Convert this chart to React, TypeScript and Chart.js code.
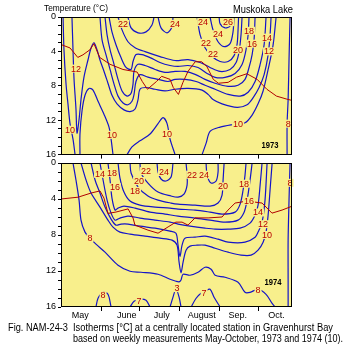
import React, { useEffect, useRef } from 'react';
import { Chart, registerables } from 'chart.js';

Chart.register(...registerables);

type Pt = [number, number]; // [days since 1 May, depth m]
type Lbl = [string, number, number]; // [text, day, depth]

// ---------- axes ----------
const monthNames = ['May', 'June', 'July', 'August', 'Sep.', 'Oct.'];
const monthLabelDays = [15, 51, 78, 109, 137, 167];
const monthStartDays = [31, 61, 92, 123, 153];
const depthTicks = [0, 4, 8, 12, 16];
const seasonDays = 179;
const maxDepth = 16;

// ---------- 1973 isotherms ----------
const t73_10a: Pt[] = [[1.6, 0], [2.3, 3.8], [3.9, 7.8], [5.4, 10.1], [7, 12.4], [9.3, 14.2], [10.9, 16]];
const t73_12: Pt[] = [[8.5, 0], [9.3, 3.8], [10.1, 7.2], [11.6, 10.7], [12.4, 13.5], [14, 11.9], [15.5, 9.6], [17.8, 7], [20.9, 5], [23.3, 3.6], [25.6, 3], [27.9, 3.8], [30.2, 5], [33.3, 6.3], [36.4, 7.7], [39.5, 9.1], [43.4, 10.1], [48.8, 10.8], [53.5, 11], [57.4, 10.7], [59.7, 9.6], [61.2, 8.4], [65.9, 8.2], [72.9, 8.4], [80.6, 8.6], [88.4, 8.4], [98.4, 8.3], [109.3, 8.5], [114, 9], [117.8, 9.6], [124.8, 10.1], [136.4, 10.5], [144.2, 10.2], [148.8, 9.4], [153.5, 8.2], [157.4, 6.7], [160.5, 4.4], [162, 2.1], [162.8, 0]];
const t73_10hump: Pt[] = [[14.7, 16], [14.7, 13.6], [16.3, 10.9], [18.6, 9.1], [21.7, 8.3], [24.8, 8.5], [28.7, 9.8], [33.3, 11.3], [37.2, 12.8], [38.8, 14.2], [40.3, 16]];
const t73_10deep: Pt[] = [[51.2, 16], [55, 15.1], [61.2, 14.4], [69, 13.6], [75.2, 12.4], [79.1, 11.7], [82.2, 12.4], [84.5, 14.2], [88.4, 16]];
const t73_10right: Pt[] = [[109.3, 16], [112.4, 14.7], [115.5, 13.3], [123.3, 12.8], [133.3, 12.5], [142.6, 12.3], [148.1, 11.4], [152.7, 10.1], [156.6, 8.6], [160.5, 6.1], [164.3, 3.3], [166.7, 0]];
const t73_8: Pt[] = [[175.2, 16], [175.2, 12.4], [176, 9.6], [176.7, 4.9], [177.5, 0]];
const t73_14: Pt[] = [[30.2, 0], [31.8, 2.65], [34.9, 4.4], [38, 6.1], [41.1, 7.8], [44.2, 9.2], [48.1, 10], [51.9, 10.2], [55, 9.8], [56.6, 9], [58.1, 7.5], [61.2, 6.7], [67.4, 7], [75.2, 7.25], [82.9, 7.5], [88.4, 7.25], [96.1, 7.25], [104.7, 7.5], [111.6, 7.94], [119.4, 8.4], [129.5, 9], [138.8, 9.2], [145, 8.75], [150.4, 7.5], [154.3, 5.52], [157.4, 3.22], [158.9, 0]];
const t73_16: Pt[] = [[34.1, 0], [35.7, 2.07], [38, 3.8], [41.1, 5.5], [44.2, 7.25], [47.3, 8.6], [51.2, 9.2], [54.3, 8.86], [55.8, 7.8], [56.6, 6.3], [59.7, 5.5], [65.1, 5.64], [72.9, 6.1], [80.6, 6.44], [88.4, 6.33], [96.1, 6.33], [103.9, 6.67], [111.6, 7.25], [119.4, 7.7], [129.5, 8.06], [137.2, 7.94], [142.6, 7.25], [145.7, 5.87], [148.1, 4.37], [149.6, 2.65], [150.4, 0]];
const t73_18: Pt[] = [[37.2, 0], [39.5, 1.73], [42.6, 3.22], [46.5, 4.72], [50.4, 5.87], [54.3, 6.1], [55.8, 5.18], [58.1, 4.37], [62.8, 4.37], [69, 4.72], [76.7, 5.29], [84.5, 5.64], [90.7, 5.75], [98.4, 5.64], [106.2, 5.87], [113.2, 6.56], [119.4, 7.02], [127.1, 7.02], [134.9, 6.56], [140.3, 5.52], [143.4, 3.8], [145, 2.07], [145.7, 0]];
const t73_20: Pt[] = [[44.2, 0], [47.3, 1.5], [51.9, 2.88], [57.4, 3.57], [65.1, 4.03], [76.7, 4.6], [88.4, 5.06], [98.4, 4.95], [107.8, 5.29], [115.5, 5.87], [123.3, 6.33], [131, 6.1], [135.7, 5.29], [138, 4.03], [139.5, 2.07], [140.3, 0]];
const t73_22a: Pt[] = [[105.4, 0], [107.8, 2.07], [111.6, 3.57], [117.1, 4.6], [123.3, 5.18], [129.5, 5.18], [134.1, 4.49], [136.4, 3.22], [137.2, 1.5], [137.6, 0]];
const t73_22b: Pt[] = [[51.9, 0], [54.3, 1.27], [59.7, 1.84], [65.9, 1.73], [70.5, 0.92], [72.1, 0]];
const t73_24a: Pt[] = [[115.5, 0], [117.8, 1.5], [121.7, 2.88], [126.4, 3.45], [131, 3.1], [133.3, 1.73], [134.1, 0]];
const t73_24b: Pt[] = [[75.2, 0], [77.5, 1.27], [82.2, 1.84], [86, 1.15], [86.8, 0]];
const t73_26: Pt[] = [[122.5, 0], [123.3, 0.8], [127.1, 1.27], [131, 1.04], [131.8, 0]];
const t73_red: Pt[] = [[0, 3.2], [7, 3.6], [13, 4.7], [17, 4.4], [22.5, 3.8], [25.5, 3.1], [30, 4.7], [38, 5.5], [48, 6.1], [59, 6.4], [63, 7.5], [67, 8.4], [74, 7.5], [78, 6.9], [84.5, 7.25], [87, 8.2], [91, 9.0], [94.5, 7.6], [98.5, 6.3], [104, 5.2], [109, 5.2], [113, 5.75], [118, 7.25], [122, 7.7], [129.5, 7.6], [136, 7.0], [144, 6.6], [152, 7.25], [159.5, 8.4], [167, 9.2], [175, 9.55], [179, 9.7]];
const t73_labels: Lbl[] = [['22', 48.1, 0.8], ['24', 88.4, 0.8], ['24', 110.1, 0.6], ['26', 129.5, 0.6], ['24', 121.7, 2.0], ['22', 112.4, 3.0], ['22', 117.8, 4.3], ['18', 145.7, 1.6], ['20', 137.2, 3.8], ['16', 148.1, 3.1], ['14', 159.7, 2.4], ['12', 161.2, 4.0], ['12', 11.6, 6.0], ['10', 7, 13.1], ['10', 39.5, 13.7], ['10', 82.2, 13.6], ['10', 137.2, 12.5], ['8', 176, 12.4]];
const t73_year: Lbl = ['1973', 162, 15.0];

// ---------- 1974 isotherms ----------
const t74_8: Pt[] = [[9.3, 0], [11.6, 1.89], [14, 4.12], [15.5, 6.35], [18.6, 7.68], [22.5, 8.35], [27.1, 9.02], [34.1, 9.91], [44.2, 11.36], [53.5, 12.03], [62, 12.14], [75.2, 12.36], [84.5, 12.92], [89.1, 13.14], [91.5, 13.2], [93, 13.0], [94.6, 12.36], [100, 12.47], [106.2, 12.14], [111.6, 11.58], [116.3, 11.8], [119.4, 12.47], [127.1, 12.7], [137.2, 13.25], [142.6, 14.37], [146.5, 14.37], [152.7, 14.03], [158.9, 14.59], [163.6, 15.6], [165.9, 16]];
const t74_10: Pt[] = [[15.5, 0], [19.4, 1.89], [23.3, 3.34], [30.2, 4.9], [36.4, 6.35], [40.3, 7.13], [45.7, 7.68], [53.5, 7.9], [65.1, 8.13], [76.7, 8.35], [86, 8.57], [89.9, 9.13], [91.5, 11.02], [93, 12.2], [94.6, 11.02], [96.9, 9.69], [100, 9.24], [105.4, 9.13], [111.6, 9.13], [119.4, 9.47], [129.5, 9.91], [139.5, 10.24], [147.3, 10.24], [152.7, 9.69], [156.6, 8.8], [158.9, 7.68], [160.5, 5.79], [162, 3], [163.6, 0]];
const t74_12: Pt[] = [[23.3, 0], [26.4, 1.89], [30.2, 3.34], [34.1, 4.9], [38.8, 6.24], [42.6, 6.9], [46.5, 6.79], [51.9, 6.79], [61.2, 7.02], [72.9, 7.24], [84.5, 7.57], [89.1, 7.8], [90.7, 9.13], [92.2, 10.4], [93.8, 9.13], [96.1, 8.35], [103.9, 8.24], [111.6, 8.13], [121.7, 8.46], [129.5, 8.8], [142.6, 8.8], [150.4, 8.24], [152.7, 7.68], [155.8, 6.57], [158.1, 4.12], [159.7, 0]];
const t74_14: Pt[] = [[30.2, 0], [32.6, 1.89], [35.7, 4.12], [38.8, 5.57], [41.9, 6.35], [45.7, 6.12], [51.9, 5.9], [61.2, 6.12], [72.9, 6.35], [84.5, 6.57], [90.7, 6.79], [100, 7.02], [111.6, 7.24], [119.4, 7.35], [129.5, 7.35], [138.8, 7.24], [146.5, 6.68], [150.4, 5.79], [152.7, 4.68], [154.3, 2.45], [155.8, 0]];
const t74_16: Pt[] = [[36.4, 0], [38, 1.89], [39.5, 3.9], [41.9, 5.23], [44.2, 5.01], [48.8, 4.79], [57.4, 5.01], [69, 5.46], [80.6, 5.68], [90.7, 5.9], [103.9, 6.12], [115.5, 6.35], [127.1, 6.57], [137.2, 6.35], [141.9, 5.46], [144.2, 4.12], [146.5, 1.89], [148.1, 0]];
const t74_18: Pt[] = [[44.2, 0], [45.7, 1.67], [48.8, 3.23], [53.5, 4.23], [61.2, 4.68], [72.9, 4.9], [84.5, 5.01], [90.7, 5.12], [103.9, 5.23], [115.5, 5.46], [124.8, 5.68], [134.9, 5.46], [138.8, 4.57], [141.1, 3], [142.6, 1.34], [143.4, 0]];
const t74_20: Pt[] = [[53.5, 0], [54.3, 1.11], [59.7, 2.67], [67.4, 3.67], [75.2, 4.12], [85.3, 4.45], [90.7, 4.57], [103.9, 4.68], [115.5, 4.79], [121.7, 4.45], [124.8, 3.56], [125.6, 1.89], [126.4, 0]];
const t74_22: Pt[] = [[61.2, 0], [62, 1.11], [67.4, 2.23], [75.2, 3.23], [85.3, 3.67], [90.7, 3.79], [95.3, 3.45], [97.7, 2.45], [97.7, 1.34], [96.9, 0]];
const t74_24a: Pt[] = [[74.4, 0], [75.2, 1.0], [77.5, 1.78], [81.4, 2.0], [85.3, 1.56], [86.8, 0]];
const t74_24b: Pt[] = [[112.4, 0], [113.2, 1.34], [116.3, 2.23], [120.2, 2.0], [121.7, 1.0], [121.7, 0]];
const t74_8right: Pt[] = [[177.5, 0], [176.7, 4.12], [176, 8.57], [176, 13.03], [176, 16]];
const t74_8arc: Pt[] = [[27.1, 16], [28.7, 15.03], [32.6, 14.37], [36.4, 14.59], [38.8, 16]];
const t74_7arc: Pt[] = [[53.5, 16], [56.6, 15.37], [61.2, 15.14], [65.9, 15.26], [69, 16]];
const t74_3arc: Pt[] = [[84.5, 16], [86.8, 14.9], [89.1, 14.0], [91.5, 14.9], [93, 16]];
const t74_7arcB: Pt[] = [[100.8, 16], [104.7, 15.03], [108.5, 14.48], [111.6, 14.25], [115.5, 14.03], [118.6, 14.92], [123.3, 16]];
const t74_red: Pt[] = [[0, 4.0], [13.2, 3.8], [23.3, 3.34], [30.2, 3.1], [33.3, 3.9], [36.4, 5.6], [42.6, 5.45], [52, 5.1], [55.8, 6.1], [57.3, 6.9], [67.4, 7.46], [75.2, 7.8], [83, 7.1], [89, 6.57], [93.8, 6.57], [98.4, 6.9], [103.9, 6.1], [114, 6.1], [124.8, 6.0], [129.4, 5.23], [134.9, 4.45], [144.2, 4.23], [155.8, 4.45], [163.5, 5.57], [171.3, 5.23], [179, 4.8]];
const t74_labels: Lbl[] = [['14', 30.2, 1.2], ['18', 39.5, 1.1], ['16', 41.9, 2.7], ['20', 60.5, 2.0], ['18', 57.4, 3.1], ['22', 65.9, 0.9], ['24', 79.8, 1.0], ['22', 101.6, 1.3], ['24', 110.9, 1.3], ['20', 125.6, 2.6], ['18', 141.9, 2.3], ['16', 145.7, 4.2], ['14', 152.7, 5.5], ['12', 156.6, 6.8], ['10', 159.7, 8.0], ['8', 177.5, 2.2], ['8', 22.5, 8.35], ['8', 32.6, 14.7], ['7', 60.5, 15.3], ['3', 89.9, 13.9], ['7', 110.9, 14.4], ['8', 152.7, 14.1]];
const t74_year: Lbl = ['1974', 164.3, 13.25];

// ---------- styling ----------
const FONT = '"Liberation Sans", Arial, sans-serif';
const BLUE = '#1414c8';
const RED_LINE = '#b00000';
const RED_TEXT = '#b80000';
const FILL = '#f8ef8c';

interface PanelSpec {
  contours: Pt[][];
  red: Pt[];
  labels: Lbl[];
  year: Lbl;
  showMonths: boolean;
  padTop: number;
  xAxisHeight: number;
}

const tickDays = [...monthLabelDays, ...monthStartDays].sort((a, b) => a - b);

function buildConfig(spec: PanelSpec): any {
  const boundary = new Set(monthStartDays);
  const datasets: any[] = [
    {
      data: spec.red.map(([x, y]) => ({ x, y })),
      showLine: true,
      borderColor: RED_LINE,
      borderWidth: 1,
      pointRadius: 0,
      tension: 0,
      order: 0,
    },
    ...spec.contours.map((c) => ({
      data: c.map(([x, y]) => ({ x, y })),
      showLine: true,
      borderColor: BLUE,
      borderWidth: 1.2,
      pointRadius: 0,
      tension: 0.3,
      order: 1,
    })),
  ];
  const decor = {
    id: 'panelDecor',
    beforeDraw(chart: any) {
      const { ctx, chartArea: a } = chart;
      ctx.save();
      ctx.fillStyle = FILL;
      ctx.fillRect(a.left, a.top, a.right - a.left, a.bottom - a.top);
      ctx.restore();
    },
    afterDatasetsDraw(chart: any) {
      const { ctx, chartArea: a, scales } = chart;
      const xs = scales.x;
      const ys = scales.y;
      ctx.save();
      ctx.font = `9px ${FONT}`;
      ctx.textAlign = 'center';
      ctx.textBaseline = 'middle';
      for (const [t, d, z] of spec.labels) {
        const px = xs.getPixelForValue(d);
        const py = ys.getPixelForValue(z);
        const w = ctx.measureText(t).width;
        ctx.fillStyle = FILL;
        ctx.fillRect(px - w / 2 - 1, py - 4, w + 2, 8);
        ctx.fillStyle = RED_TEXT;
        ctx.fillText(t, px, py + 0.5);
      }
      const [yt, yd, yz] = spec.year;
      ctx.font = `bold 9px ${FONT}`;
      ctx.fillStyle = '#000';
      ctx.fillText(yt, xs.getPixelForValue(yd), ys.getPixelForValue(yz), 17);
      ctx.strokeStyle = '#000';
      ctx.lineWidth = 1;
      const l = Math.round(a.left);
      const t = Math.round(a.top);
      ctx.strokeRect(l + 0.5, t + 0.5, Math.round(a.right) - l - 1, Math.round(a.bottom) - t - 1);
      ctx.restore();
    },
  };
  return {
    type: 'scatter',
    data: { datasets },
    plugins: [decor],
    options: {
      animation: false,
      responsive: false,
      devicePixelRatio: 1,
      events: [],
      layout: { padding: { top: spec.padTop, right: 8, left: 0, bottom: 0 } },
      plugins: { legend: { display: false }, tooltip: { enabled: false }, title: { display: false } },
      scales: {
        x: {
          type: 'linear',
          min: 0,
          max: seasonDays,
          afterBuildTicks: (axis: any) => {
            axis.ticks = tickDays.map((value) => ({ value }));
          },
          afterFit: (axis: any) => {
            axis.height = spec.xAxisHeight;
          },
          ticks: {
            display: spec.showMonths,
            autoSkip: false,
            maxRotation: 0,
            minRotation: 0,
            padding: -1,
            color: '#000',
            font: { family: FONT, size: 9 },
            callback: (v: number) => {
              const i = monthLabelDays.indexOf(v);
              return i >= 0 ? monthNames[i] : '';
            },
          },
          grid: {
            display: true,
            drawOnChartArea: false,
            drawTicks: true,
            tickLength: 4,
            lineWidth: 1,
            color: (c: any) => (c.tick && boundary.has(c.tick.value) ? '#000' : 'rgba(0,0,0,0)'),
          },
          border: { display: false },
        },
        y: {
          type: 'linear',
          reverse: true,
          min: 0,
          max: maxDepth,
          afterFit: (axis: any) => {
            axis.width = 61;
          },
          ticks: {
            stepSize: 1,
            autoSkip: false,
            padding: 2,
            color: '#000',
            font: { family: FONT, size: 9 },
            callback: (v: number) => (depthTicks.includes(v) ? String(v) : ''),
          },
          grid: { display: true, drawOnChartArea: false, drawTicks: true, tickLength: 3, color: '#000', lineWidth: 1 },
          border: { display: false },
        },
      },
    },
  };
}

const spec1973: PanelSpec = {
  contours: [t73_10a, t73_12, t73_10hump, t73_10deep, t73_10right, t73_8, t73_14, t73_16, t73_18, t73_20, t73_22a, t73_22b, t73_24a, t73_24b, t73_26],
  red: t73_red,
  labels: t73_labels,
  year: t73_year,
  showMonths: false,
  padTop: 17,
  xAxisHeight: 6,
};

const spec1974: PanelSpec = {
  contours: [t74_8, t74_10, t74_12, t74_14, t74_16, t74_18, t74_20, t74_22, t74_24a, t74_24b, t74_8right, t74_8arc, t74_7arc, t74_3arc, t74_7arcB],
  red: t74_red,
  labels: t74_labels,
  year: t74_year,
  showMonths: true,
  padTop: 13,
  xAxisHeight: 23,
};

function Panel({ spec, top, height }: { spec: PanelSpec; top: number; height: number }) {
  const ref = useRef<HTMLCanvasElement>(null);
  useEffect(() => {
    const chart = new Chart(ref.current as HTMLCanvasElement, buildConfig(spec));
    return () => chart.destroy();
  }, [spec]);
  return (
    <canvas
      ref={ref}
      width={300}
      height={height}
      style={{ position: 'absolute', left: 0, top, width: 300, height }}
    />
  );
}

export default function App() {
  const txt = { fontFamily: FONT, fill: '#000' } as const;
  return (
    <div style={{ position: 'fixed', left: 0, top: 0, width: 357, height: 350, background: '#fff', overflow: 'hidden' }}>
      <Panel spec={spec1973} top={0} height={162} />
      <Panel spec={spec1974} top={150} height={180} />
      <svg width={357} height={350} style={{ position: 'absolute', left: 0, top: 0, pointerEvents: 'none' }}>
        <text x={44} y={11} fontSize={9} textLength={64} lengthAdjust="spacingAndGlyphs" {...txt}>Temperature (°C)</text>
        <text x={233} y={12.5} fontSize={10} textLength={60} lengthAdjust="spacingAndGlyphs" {...txt}>Muskoka Lake</text>
        <text x={8} y={331} fontSize={10} textLength={60} lengthAdjust="spacingAndGlyphs" {...txt}>Fig. NAM-24-3</text>
        <text x={73} y={331} fontSize={10} textLength={260} lengthAdjust="spacingAndGlyphs" {...txt}>Isotherms [°C] at a centrally located station in Gravenhurst Bay</text>
        <text x={73} y={341.5} fontSize={10} textLength={270} lengthAdjust="spacingAndGlyphs" {...txt}>based on weekly measurements May-October, 1973 and 1974 (10).</text>
      </svg>
    </div>
  );
}
